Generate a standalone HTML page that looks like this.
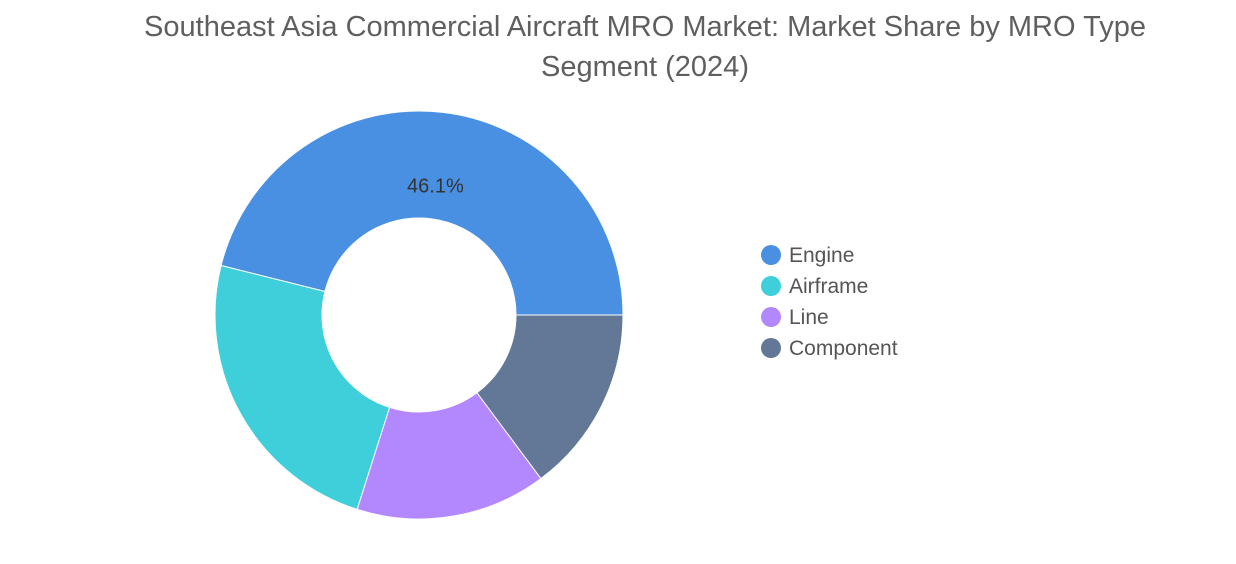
<!DOCTYPE html>
<html><head><meta charset="utf-8"><style>
body{margin:0;width:1236px;height:559px;background:#fff;font-family:"Liberation Sans",sans-serif;overflow:hidden}
</style></head><body>
<svg width="1236" height="559">
<text x="645" y="36" text-anchor="middle" font-size="29" fill="#5f5f5f">Southeast Asia Commercial Aircraft MRO Market: Market Share by MRO Type</text>
<text x="645" y="76" text-anchor="middle" font-size="29" fill="#5f5f5f">Segment (2024)</text>
<g id="donut"></g>
<g id="legend"></g>
</svg>
<script>
const categories=["Engine","Airframe","Line","Component"];
const values=[46.1,24.0,15.1,14.8];
const colors=["#4a90e2","#3ecfdb","#b388ff","#627896"];
const cx=419,cy=315,R=204,r=97;
const ns="http://www.w3.org/2000/svg";
const g=document.getElementById('donut');
const total=values.reduce((a,b)=>a+b,0);
let a0=0;
function pt(rad,a){return [cx+rad*Math.cos(a),cy-rad*Math.sin(a)];}
values.forEach((v,i)=>{
  const a1=a0+v/total*2*Math.PI;
  const [x1,y1]=pt(R,a0),[x2,y2]=pt(R,a1),[x3,y3]=pt(r,a1),[x4,y4]=pt(r,a0);
  const lg=(a1-a0)>Math.PI?1:0;
  const p=document.createElementNS(ns,'path');
  p.setAttribute('d',`M${x1},${y1} A${R},${R} 0 ${lg} 0 ${x2},${y2} L${x3},${y3} A${r},${r} 0 ${lg} 1 ${x4},${y4} Z`);
  p.setAttribute('fill',colors[i]);
  p.setAttribute('stroke','#fff');
  p.setAttribute('stroke-width','1');
  
  
  g.appendChild(p);
  if(i===0){
    const t=document.createElementNS(ns,'text');
    const [lx,ly]=pt((R+r)/2,(a0+a1)/2);
    t.setAttribute('x',lx-2);t.setAttribute('y',ly+27);
    t.setAttribute('text-anchor','middle');t.setAttribute('font-size','20');t.setAttribute('fill','#333');
    t.textContent=v.toFixed(1)+'%';
    
    
    g.appendChild(t);
  }
  a0=a1;
});
const lg=document.getElementById('legend');
categories.forEach((c,i)=>{
  const y=255+i*31;
  const ci=document.createElementNS(ns,'circle');
  ci.setAttribute('cx',771);ci.setAttribute('cy',y);ci.setAttribute('r',10);ci.setAttribute('fill',colors[i]);
  
  
  lg.appendChild(ci);
  const t=document.createElementNS(ns,'text');
  t.setAttribute('x',789);t.setAttribute('y',y+7);t.setAttribute('font-size','21');t.setAttribute('fill','#555');
  t.textContent=c;
  
  
  lg.appendChild(t);
});
</script>
</body></html>
